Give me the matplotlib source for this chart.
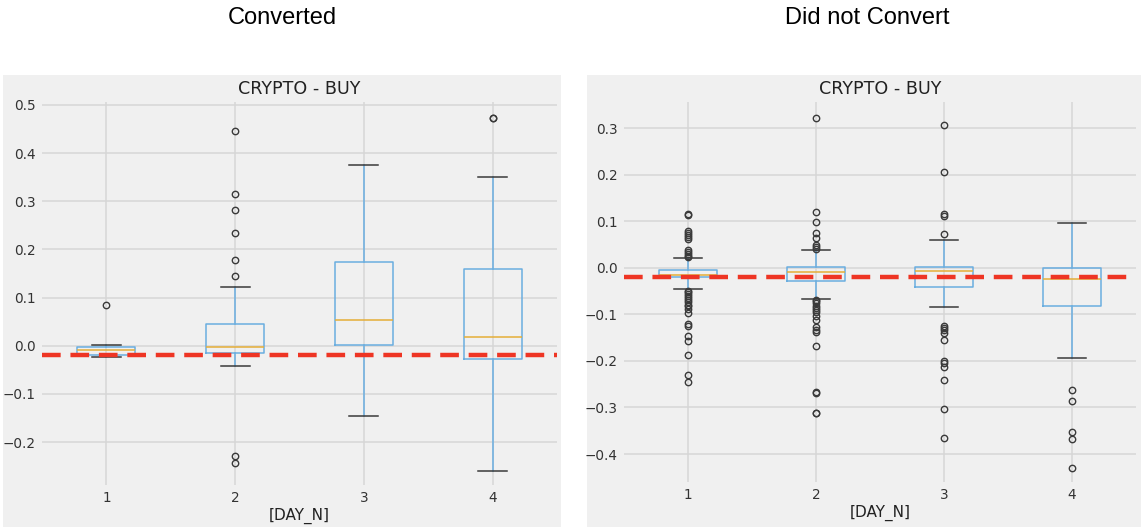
import matplotlib
matplotlib.use("Agg")
import matplotlib.pyplot as plt
from matplotlib.patches import Rectangle

# ---- data -----------------------------------------------------------------
days = [1, 2, 3, 4]
day_labels = ["1", "2", "3", "4"]
threshold = -0.02

# Converted
conv_whislo = [-0.023, -0.043, -0.146, -0.260]
conv_q1 = [-0.020, -0.0146, 0.0014, -0.0277]
conv_med = [-0.0097, -0.0035, 0.0527, 0.0187]
conv_q3 = [-0.0035, 0.0457, 0.174, 0.160]
conv_whishi = [0.0014, 0.123, 0.3756, 0.351]
conv_fliers = [
    [0.0845],
    [0.446, 0.314, 0.282, 0.235, 0.177, 0.1455, -0.228, -0.243],
    [],
    [0.472, 0.473],
]

# Did not convert
nc_whislo = [-0.045, -0.066, -0.085, -0.194]
nc_q1 = [-0.020, -0.028, -0.0415, -0.0816]
nc_med = [-0.015, -0.0086, -0.007, -0.025]
nc_q3 = [-0.005, 0.0014, 0.002, -0.0014]
nc_whishi = [0.020, 0.039, 0.060, 0.0966]
nc_fliers = [
    [0.114, 0.115, 0.078, 0.074, 0.070, 0.066, 0.061, 0.038, 0.034, 0.030,
     0.026, 0.023,
     -0.049, -0.052, -0.056, -0.060, -0.064, -0.069, -0.074, -0.079, -0.083,
     -0.088, -0.097, -0.120, -0.126, -0.147, -0.158, -0.187, -0.231, -0.246],
    [0.321, 0.1195, 0.098, 0.074, 0.064, 0.048, 0.044, 0.041,
     -0.069, -0.072, -0.076, -0.081, -0.086, -0.090, -0.095, -0.1045, -0.113,
     -0.127, -0.133, -0.138, -0.169, -0.267, -0.268, -0.311, -0.312],
    [0.307, 0.2055, 0.116, 0.111, 0.072,
     -0.124, -0.129, -0.1345, -0.140, -0.156, -0.201, -0.205, -0.212, -0.2405,
     -0.3035, -0.3665],
    [-0.263, -0.286, -0.352, -0.367, -0.4295],
]

# ---- styling ----------------------------------------------------------------
W, H = 1144, 528
BG = "#f0f0f0"
GRID = "#d6d6d6"
TXT = "#333333"
BOX = "#6aaee0"
MED = "#e5ae38"
CAP = "#3a3a3a"
RED = "#ee3524"

fig = plt.figure(figsize=(W / 100, H / 100), dpi=100)
fig.patch.set_facecolor("white")


def px_rect(x0, y0, x1, y1):
    """Convert pixel box (top-left origin) to figure fraction [l, b, w, h]."""
    return [x0 / W, (H - y1) / H, (x1 - x0) / W, (y1 - y0) / H]


def panel(bg_box, ax_box, ylim, yticks, q1, med, q3, lo, hi, fliers):
    l, b, w, h = px_rect(*bg_box)
    fig.patches.append(Rectangle((l, b), w, h, transform=fig.transFigure,
                                 facecolor=BG, edgecolor="none", zorder=-10))
    ax = fig.add_axes(px_rect(*ax_box))
    ax.set_facecolor(BG)
    for s in ax.spines.values():
        s.set_visible(False)

    stats = []
    for i in range(len(days)):
        stats.append(dict(med=med[i], q1=q1[i], q3=q3[i], whislo=lo[i],
                          whishi=hi[i], fliers=fliers[i]))
    ax.bxp(stats, positions=days, widths=0.45, showfliers=True,
           boxprops=dict(color=BOX, linewidth=1.1),
           whiskerprops=dict(color=BOX, linewidth=1.1),
           capprops=dict(color=CAP, linewidth=1.1),
           medianprops=dict(color=MED, linewidth=1.1),
           flierprops=dict(marker="o", markerfacecolor="none",
                           markeredgecolor=CAP, markersize=4.6,
                           markeredgewidth=1.0))
    ax.axhline(threshold, color=RED, linestyle=(0, (4.2, 2.2)),
               linewidth=3.2, zorder=5)

    ax.set_xlim(0.5, 4.5)
    ax.set_ylim(*ylim)
    ax.set_xticks(days)
    ax.set_xticklabels(day_labels)
    ax.set_yticks(yticks)
    ax.set_yticklabels([f"{t:.1f}".replace("-", "\u2212") for t in yticks])
    ax.grid(True, color=GRID, linewidth=1.1)
    ax.set_axisbelow(True)
    ax.tick_params(length=0, labelsize=9.8, colors=TXT, pad=4.5)
    ax.set_title("CRYPTO - BUY", fontsize=12.6, color="#222222", pad=6)
    ax.set_xlabel("[DAY_N]", fontsize=11, color="#222222", labelpad=1.5)
    return ax


panel((3, 75, 561, 527), (42, 102, 557, 485), (-0.289, 0.506),
      [-0.2, -0.1, 0.0, 0.1, 0.2, 0.3, 0.4, 0.5],
      conv_q1, conv_med, conv_q3, conv_whislo, conv_whishi, conv_fliers)
panel((587, 75, 1141, 527), (624, 102, 1136, 482), (-0.46, 0.356),
      [-0.4, -0.3, -0.2, -0.1, 0.0, 0.1, 0.2, 0.3],
      nc_q1, nc_med, nc_q3, nc_whislo, nc_whishi, nc_fliers)

fig.text(282 / W, 1 - 18 / H, "Converted", ha="center", va="center",
         fontsize=17, family="Liberation Sans", color="black")
fig.text(867 / W, 1 - 18 / H, "Did not Convert", ha="center", va="center",
         fontsize=17, family="Liberation Sans", color="black")

fig.savefig("out.png", dpi=100, facecolor="white")
